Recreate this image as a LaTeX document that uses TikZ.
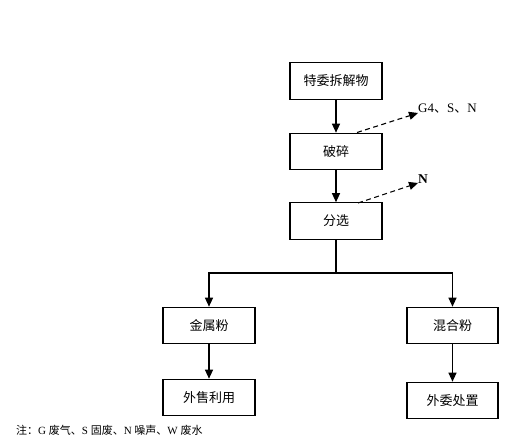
\documentclass[tikz,border=0pt]{standalone}
\usepackage{fontspec}
\setmainfont{Liberation Serif}
\newfontfamily\cjk{Noto Sans CJK SC}
\usetikzlibrary{arrows.meta,calc}
\begin{document}
\begin{tikzpicture}[x=1pt,y=-1pt,
  box/.style={draw,line width=1.1pt,minimum width=92pt,minimum height=36.5pt,inner sep=0pt,font=\cjk\fontsize{13}{15}\selectfont},
  arr/.style={line width=1.1pt,-{Triangle[length=9pt,width=8pt]}},
  darr/.style={line width=1.1pt,dash pattern=on 5pt off 3.5pt,-{Triangle[length=9pt,width=8pt]}}]
\useasboundingbox (0,0) rectangle (515,438);
\node[box] (b1) at (336,81) {特委拆解物};
\node[box] (b2) at (336,151.5) {破碎};
\node[box] (b3) at (336,221) {分选};
\node[box] (lb) at (209,325.5) {金属粉};
\node[box,minimum width=91pt] (rb) at (452.5,325.5) {混合粉};
\node[box] (ll) at (209,397.5) {外售利用};
\node[box,minimum width=91pt] (lr) at (452.5,400.5) {外委处置};
\coordinate (split) at (336,273);
\coordinate (d1s) at (357,132.5);
\coordinate (d1e) at (418,113);
\coordinate (d2s) at (358,203);
\coordinate (d2e) at (418,183);
\draw[arr] (b1) -- (b2);
\draw[arr] (b2) -- (b3);
\draw[line width=1.1pt] (b3) -- (split);
\draw[arr] (split) -| (lb.north);
\draw[arr] (split) -| (rb.north);
\draw[arr] (lb) -- (ll);
\draw[arr] (rb) -- (lr);
\draw[darr] (d1s) -- (d1e);
\draw[darr] (d2s) -- (d2e);
\node[anchor=south west,inner sep=0pt,font=\fontsize{13}{14}\selectfont] (l1) at (418,113) {G4{\cjk 、}S{\cjk 、}N};
\node[anchor=south west,inner sep=0pt,font=\bfseries\fontsize{13.5}{14}\selectfont] (l2) at (418,184) {N};
\node[anchor=west,inner sep=0pt,font=\fontsize{11}{12}\selectfont] (note) at (16,430) {{\cjk 注：}G {\cjk 废气、}S {\cjk 固废、}N {\cjk 噪声、}W {\cjk 废水}};
\end{tikzpicture}
\end{document}
